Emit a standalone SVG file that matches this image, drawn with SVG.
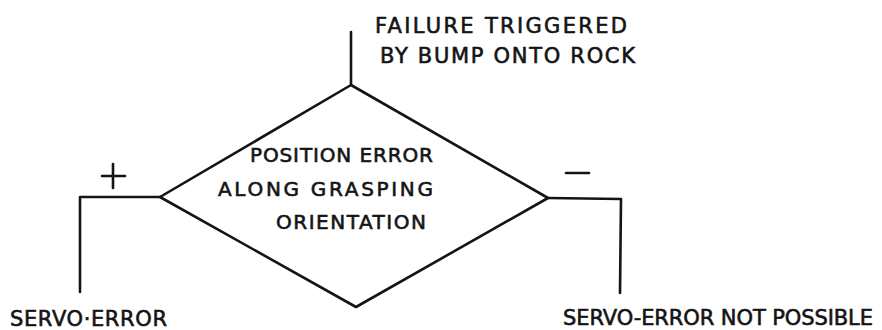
<svg xmlns="http://www.w3.org/2000/svg" width="882" height="330" viewBox="0 0 882 330">
  <style>
    .ink { fill: none; stroke: #141414; stroke-width: 2.6; stroke-linecap: round; stroke-linejoin: round; }
    .lbl { font-family: "DejaVu Sans", "Liberation Sans", sans-serif; fill: #141414; stroke: #141414; stroke-width: 0.6; }
  </style>
  <rect width="882" height="330" fill="#ffffff"/>

  <!-- trigger line and its note -->
  <g id="trigger">
    <text class="lbl" x="375" y="33" font-size="21" textLength="252" lengthAdjust="spacing">FAILURE TRIGGERED</text>
    <text class="lbl" x="380" y="63" font-size="21" textLength="255" lengthAdjust="spacing">BY BUMP ONTO ROCK</text>
  </g>

  <!-- decision diamond -->
  <g id="decision">
    <polygon class="ink" points="351,85 548,198 356,307 160,197"/>
    <text class="lbl" x="250" y="162" font-size="20" textLength="183" lengthAdjust="spacing">POSITION ERROR</text>
    <text class="lbl" x="218" y="196" font-size="20" textLength="215" lengthAdjust="spacing">ALONG GRASPING</text>
    <text class="lbl" x="276" y="229" font-size="20" textLength="150" lengthAdjust="spacing">ORIENTATION</text>
  </g>

  <!-- outcome: positive branch -->
  <g id="servo-error">
    <text class="lbl" x="10" y="326" font-size="21" textLength="157" lengthAdjust="spacing">SERVO·ERROR</text>
  </g>

  <!-- outcome: negative branch -->
  <g id="servo-error-not-possible">
    <text class="lbl" x="563" y="325" font-size="21" textLength="310" lengthAdjust="spacing">SERVO-ERROR NOT POSSIBLE</text>
  </g>

  <g id="connectors">
    <line class="ink" x1="351" y1="32" x2="351" y2="85"/>
    <polyline class="ink" points="160,197 80,197 80,292"/>
    <polyline class="ink" points="548,198 621,199 620,293"/>
    <!-- branch signs -->
    <line class="ink" x1="102" y1="176" x2="125" y2="176"/>
    <line class="ink" x1="113" y1="164" x2="113" y2="188"/>
    <line class="ink" x1="566" y1="173" x2="589" y2="173" stroke-width="3"/>
  </g>
</svg>
